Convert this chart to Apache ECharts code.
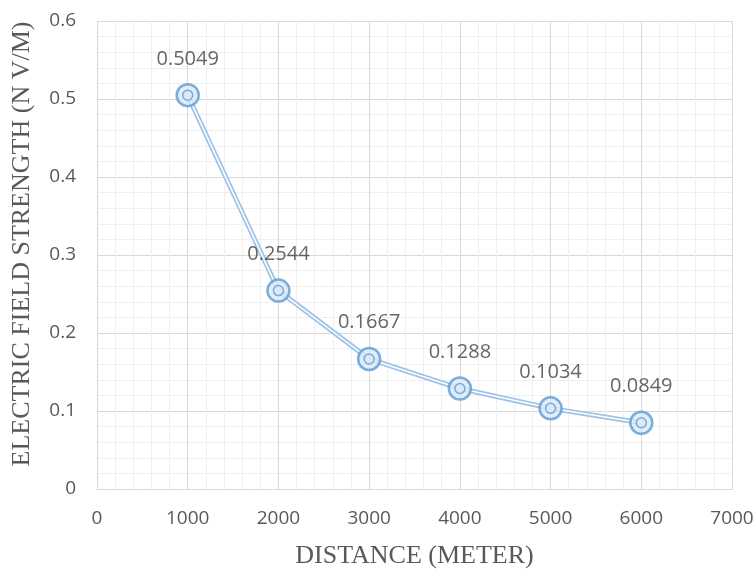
<!DOCTYPE html>
<html><head><meta charset="utf-8">
<script src="https://cdn.jsdelivr.net/npm/echarts@6/dist/echarts.min.js"></script>
<style>html,body{margin:0;padding:0;background:#fff}#c{width:753px;height:571px}</style>
</head><body><div id="c"></div>
<script>
const distances = [1000, 2000, 3000, 4000, 5000, 6000];
const fieldStrength = [0.5049, 0.2544, 0.1667, 0.1288, 0.1034, 0.0849];
const xTitle = 'DISTANCE (METER)';
const yTitle = 'ELECTRIC FIELD STRENGTH (N V/M)';

const pts = distances.map((d, i) => [d, fieldStrength[i]]);
const chart = echarts.init(document.getElementById('c'));
const tickFont = {color: '#595959', fontSize: 19, fontFamily: 'Open Sans'};
const titleFont = {color: '#595959', fontSize: 26, fontFamily: 'Liberation Serif'};
chart.setOption({
  animation: false,
  grid: {left: 97, right: 21, top: 21, bottom: 82, outerBoundsMode: 'none', containLabel: false},
  xAxis: {
    type: 'value', min: 0, max: 7000, interval: 1000,
    name: xTitle, nameLocation: 'middle', nameGap: 54, nameTextStyle: titleFont,
    axisLine: {show: true, lineStyle: {color: '#d9d9d9'}},
    axisTick: {show: false},
    axisLabel: Object.assign({margin: 20, formatter: v => String(v), showMaxLabel: true}, tickFont),
    splitLine: {show: true, lineStyle: {color: '#d9d9d9', width: 1}},
    minorTick: {show: false, splitNumber: 5},
    minorSplitLine: {show: true, lineStyle: {color: '#efefef', width: 1}}
  },
  yAxis: {
    type: 'value', min: 0, max: 0.6, interval: 0.1,
    name: yTitle, nameLocation: 'middle', nameGap: 62,
    nameTextStyle: Object.assign({padding: [0, 0, 0, 22]}, titleFont),
    axisLine: {show: true, lineStyle: {color: '#d9d9d9'}},
    axisTick: {show: false},
    axisLabel: Object.assign({margin: 21, formatter: v => String(Math.round(v * 10) / 10)}, tickFont),
    splitLine: {show: true, lineStyle: {color: '#d9d9d9', width: 1}},
    minorTick: {show: false, splitNumber: 5},
    minorSplitLine: {show: true, lineStyle: {color: '#efefef', width: 1}}
  },
  series: [
    {type: 'line', data: pts, showSymbol: false, lineStyle: {color: '#9dc3e6', width: 5}, z: 2},
    {type: 'line', data: pts, showSymbol: false, lineStyle: {color: '#ffffff', width: 1.5}, z: 3},
    {type: 'scatter', data: pts, symbol: 'circle', symbolSize: 22,
      itemStyle: {color: '#dce9f6', borderColor: '#5b9bd5', borderWidth: 2.5}, z: 4,
      label: {show: true, position: 'top', distance: 14, color: '#404040', fontSize: 20, fontFamily: 'Open Sans',
        formatter: p => String(fieldStrength[p.dataIndex])}},
    {type: 'scatter', data: pts, symbol: 'circle', symbolSize: 10,
      itemStyle: {color: '#dce9f6', borderColor: '#5b9bd5', borderWidth: 1.5}, z: 5}
  ]
});
</script></body></html>
